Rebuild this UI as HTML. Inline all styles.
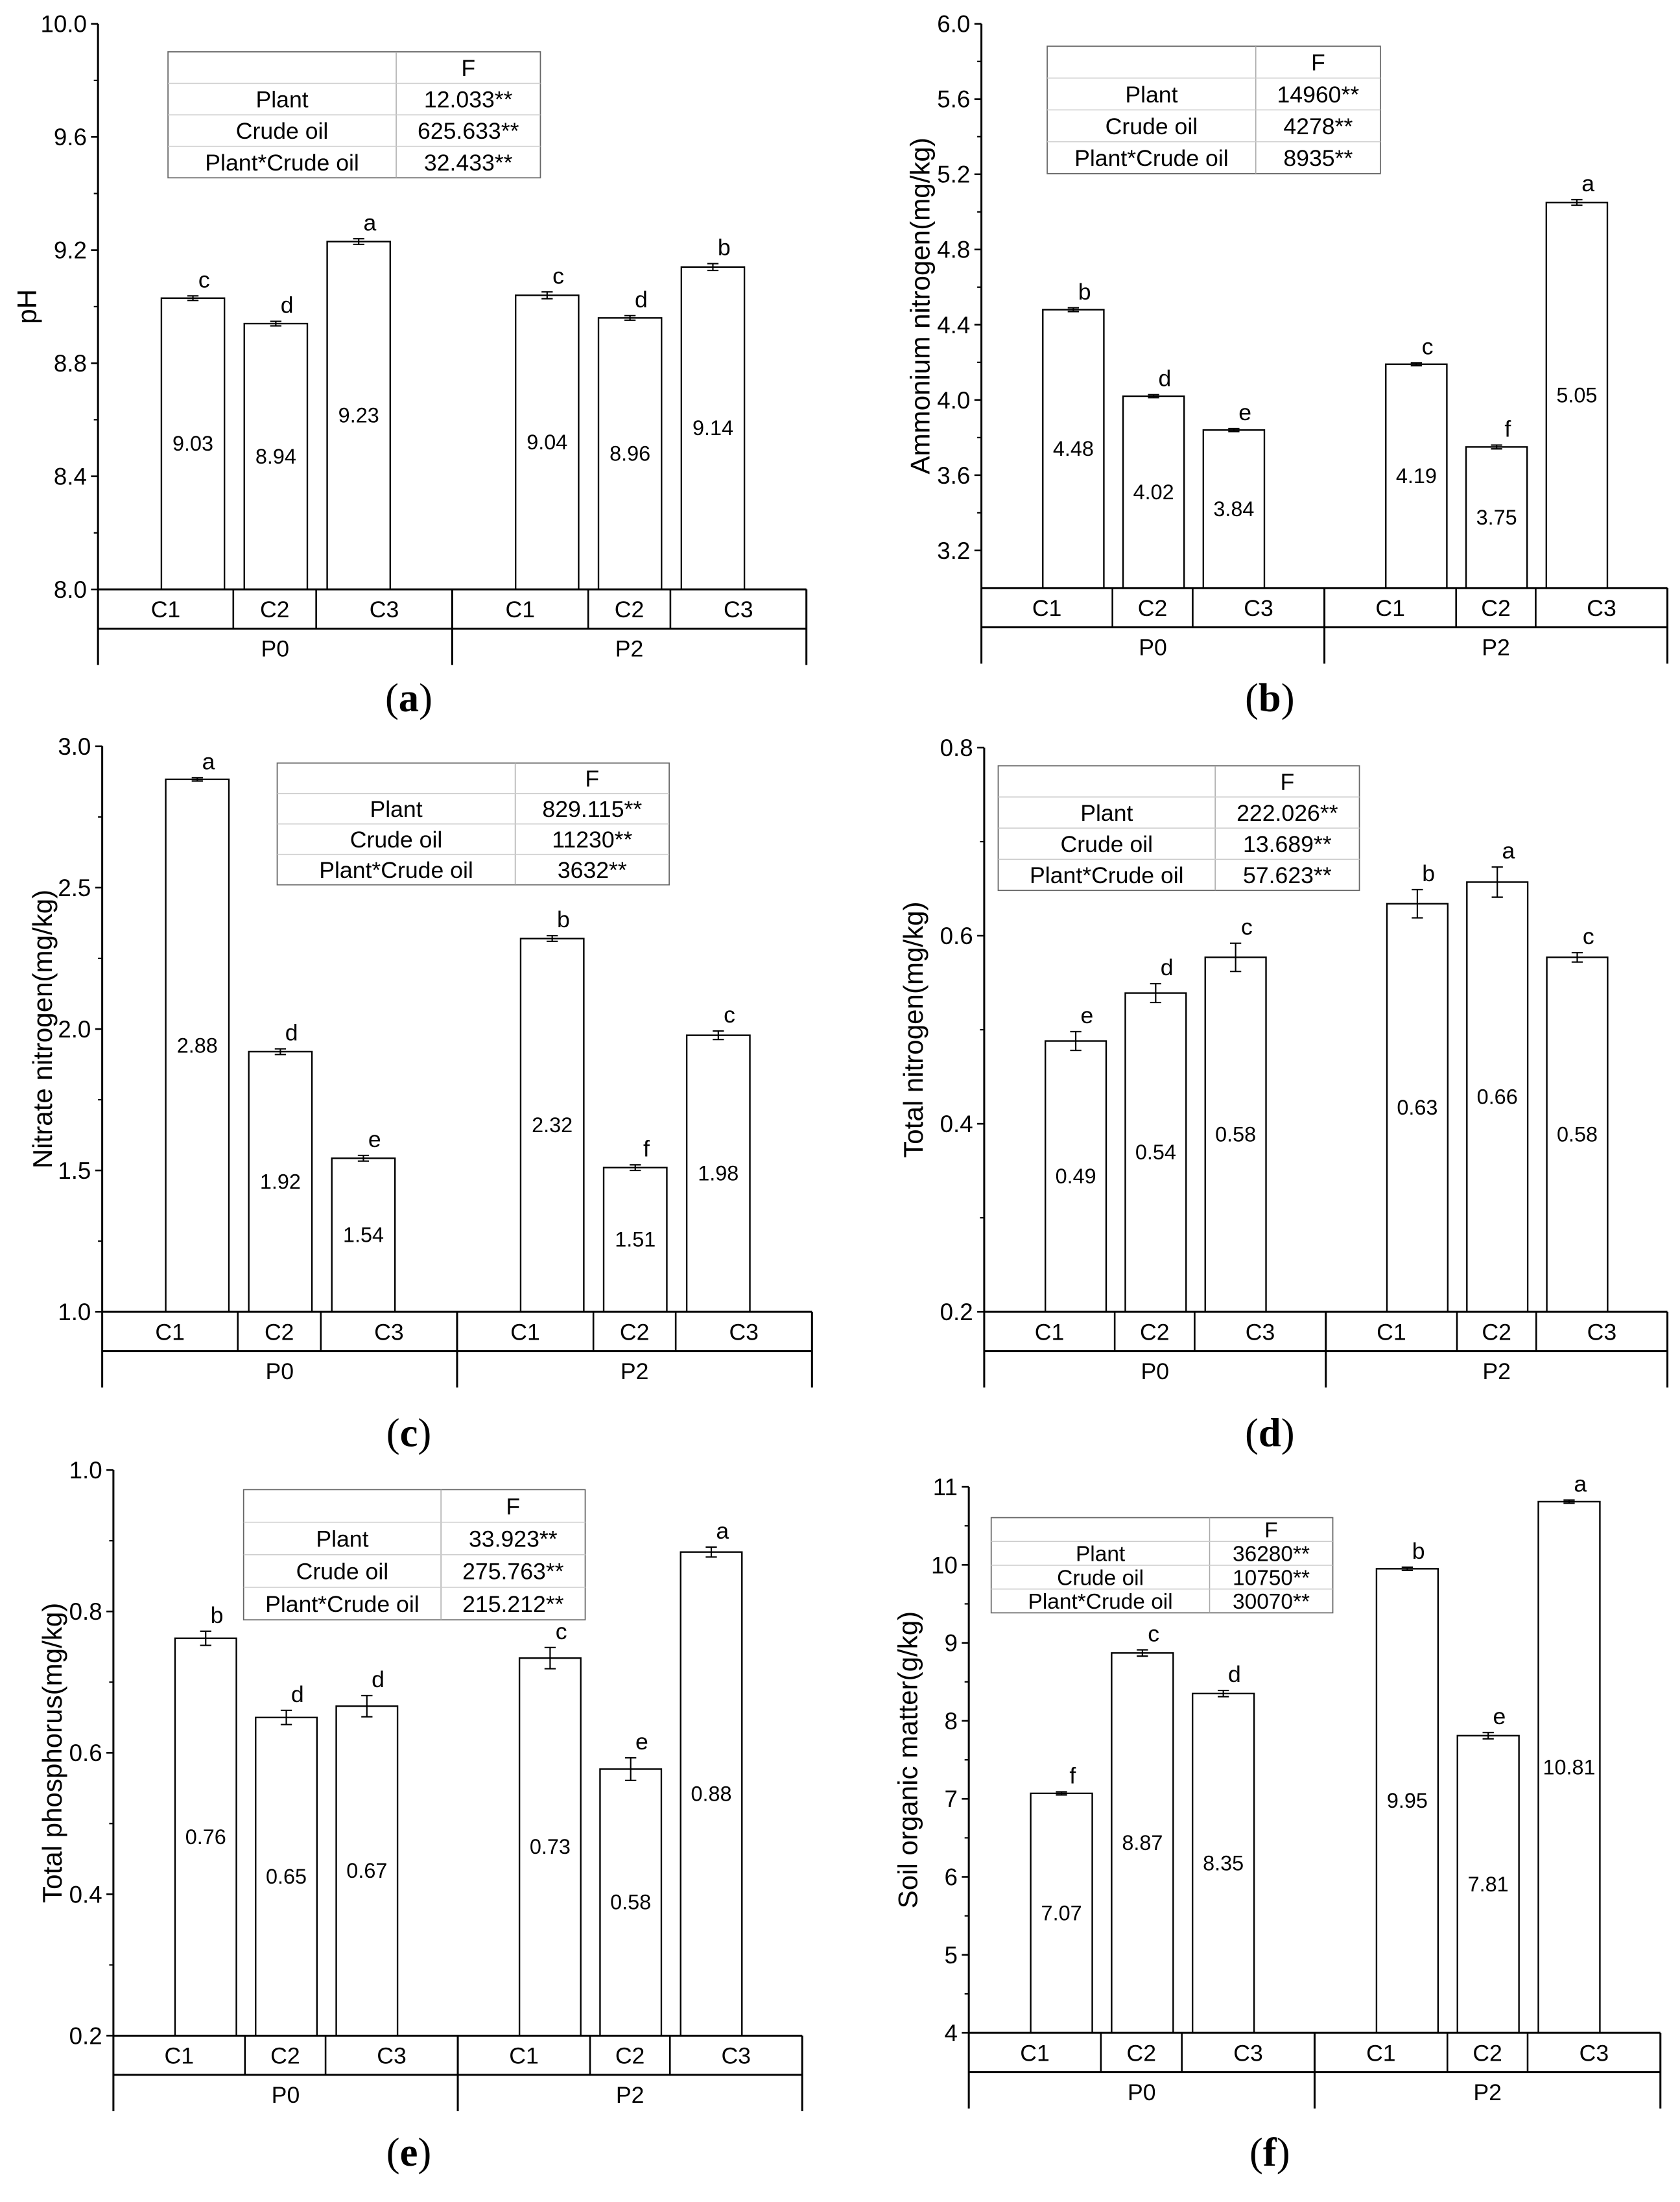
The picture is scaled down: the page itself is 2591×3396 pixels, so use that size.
<!DOCTYPE html>
<html><head><meta charset="utf-8"><style>
html,body{margin:0;padding:0;background:#fff}
svg{display:block}
text{font-family:"Liberation Sans",Arial,sans-serif;fill:#000}
</style></head><body>
<svg id="fig" xmlns="http://www.w3.org/2000/svg" width="2591" height="3396" viewBox="0 0 1200 1572.8"></svg>
<script>
const cats = ["C1","C2","C3","C1","C2","C3"];
const groups = ["P0","P2"];
// (a) pH
const aVals = [9.03,8.94,9.23,9.04,8.96,9.14];
const aErr = [0.008,0.008,0.01,0.012,0.008,0.012];
const aLet = ["c","d","a","c","d","b"];
const aTicks = [8.0,8.4,8.8,9.2,9.6,10.0];
const aF = ["12.033**","625.633**","32.433**"];
// (b) ammonium
const bVals = [4.48,4.02,3.84,4.19,3.75,5.05];
const bErr = [0.01,0.008,0.008,0.008,0.01,0.015];
const bLet = ["b","d","e","c","f","a"];
const bTicks = [3.2,3.6,4.0,4.4,4.8,5.2,5.6,6.0];
const bF = ["14960**","4278**","8935**"];
// (c) nitrate
const cVals = [2.883,1.92,1.543,2.32,1.51,1.978];
const cErr = [0.006,0.01,0.01,0.01,0.01,0.015];
const cLet = ["a","d","e","b","f","c"];
const cTicks = [1.0,1.5,2.0,2.5,3.0];
const cF = ["829.115**","11230**","3632**"];
// (d) total nitrogen
const dVals = [0.488,0.539,0.577,0.634,0.657,0.577];
const dErr = [0.01,0.01,0.015,0.015,0.016,0.005];
const dLet = ["e","d","c","b","a","c"];
const dTicks = [0.2,0.4,0.6,0.8];
const dF = ["222.026**","13.689**","57.623**"];
// (e) total phosphorus
const eVals = [0.762,0.65,0.666,0.734,0.577,0.884];
const eErr = [0.01,0.01,0.015,0.015,0.016,0.007];
const eLet = ["b","d","d","c","e","a"];
const eTicks = [0.2,0.4,0.6,0.8,1.0];
const eF = ["33.923**","275.763**","215.212**"];
// (f) soil organic matter
const fVals = [7.07,8.87,8.35,9.95,7.81,10.81];
const fErr = [0.02,0.04,0.04,0.02,0.04,0.02];
const fLet = ["f","c","d","b","e","a"];
const fTicks = [4,5,6,7,8,9,10,11];
const fF = ["36280**","10750**","30070**"];

const rowNames = ["Plant","Crude oil","Plant*Crude oil"];
const NS = "http://www.w3.org/2000/svg";
const svg = document.getElementById('fig');
function mk(tag, attrs, parent, txt){
  const e = document.createElementNS(NS, tag);
  for (const k in attrs) e.setAttribute(k, attrs[k]);
  if (txt !== undefined) e.textContent = txt;
  parent.appendChild(e);
  return e;
}

function panel(cfg){
  const g = mk('g', {}, svg);
  
  
  const x0 = cfg.x0, x1 = cfg.x1, yT = cfg.yT, yB = cfg.yB;
  const W = x1 - x0;
  const ys = v => yB - (v - cfg.min) / (cfg.max - cfg.min) * (yB - yT);
  const ax = mk('line', {x1:x0, y1:yT, x2:x0, y2:yB, stroke:'#000','stroke-width':1.4}, g);
  
  
  cfg.ticks.forEach((t, i) => {
    const y = ys(t);
    mk('line', {x1:x0-5, y1:y, x2:x0, y2:y, stroke:'#000','stroke-width':1.2}, g);
    const tl = mk('text', {x:x0-8, y:y+6, 'font-size':17, 'text-anchor':'end'}, g, cfg.fmt(t));
    
    
    if (i < cfg.ticks.length - 1) {
      const ym = ys((t + cfg.ticks[i+1]) / 2);
      mk('line', {x1:x0-3, y1:ym, x2:x0, y2:ym, stroke:'#000','stroke-width':1}, g);
    }
  });
  const yc = (yT + yB) / 2;
  const tt = mk('text', {x:0, y:0, 'font-size':19.5, 'text-anchor':'middle', transform:`translate(${cfg.titleX},${yc}) rotate(-90)`}, g, cfg.title);
  
  
  const centers = [.134,.251,.368,.634,.751,.868];
  const bw = W * 0.089;
  cfg.vals.forEach((v, i) => {
    const cx = x0 + centers[i] * W;
    const yv = ys(v);
    const r = mk('rect', {x:cx-bw/2, y:yv, width:bw, height:yB-yv, fill:'#fff', stroke:'#000','stroke-width':1.1}, g);
    
    
    const e = cfg.err[i];
    const yh = ys(v + e), yl = ys(v - e);
    mk('path', {d:`M${cx},${yh}V${yl}M${cx-4},${yh}H${cx+4}M${cx-4},${yl}H${cx+4}`, stroke:'#000','stroke-width':1, fill:'none'}, g);
    const lt = mk('text', {x:cx+8, y:yh-6, 'font-size':16.5, 'text-anchor':'middle'}, g, cfg.lets[i]);
    
    
    const vt = mk('text', {x:cx, y:(yv+yB)/2+5, 'font-size':15, 'text-anchor':'middle'}, g, v.toFixed(2));
    
    
  });
  const r1 = yB + 28, r2 = yB + 54;
  mk('path', {d:`M${x0},${yB}H${x1}M${x0},${r1}H${x1}M${x0},${yB}V${r2}M${x1},${yB}V${r2}M${x0+W*.5},${yB}V${r2}`, stroke:'#000','stroke-width':1.4, fill:'none'}, g);
  const cols = [0,.191,.308,.5,.692,.808,1];
  [.191,.308,.692,.808].forEach(f => mk('line', {x1:x0+W*f, y1:yB, x2:x0+W*f, y2:r1, stroke:'#000','stroke-width':1.2}, g));
  cats.forEach((c, i) => {
    const cx = x0 + W * (cols[i] + cols[i+1]) / 2;
    const ct = mk('text', {x:cx, y:r1-8, 'font-size':16.5, 'text-anchor':'middle'}, g, c);
    
    
  });
  groups.forEach((p, i) => {
    const pt = mk('text', {x:x0 + W*(.25 + .5*i), y:r2-6, 'font-size':16.5, 'text-anchor':'middle'}, g, p);
    
    
  });
  const T = cfg.tbl;
  const tg = mk('g', {}, g);
  
  
  const rh = (T.y1 - T.y0) / 4;
  const fs = T.fs || 16.5;
  mk('rect', {x:T.x0, y:T.y0, width:T.x1-T.x0, height:T.y1-T.y0, fill:'#fff', stroke:'#666','stroke-width':0.8}, tg);
  mk('line', {x1:T.sx, y1:T.y0, x2:T.sx, y2:T.y1, stroke:'#aaa','stroke-width':0.7}, tg);
  for (let k = 1; k < 4; k++) mk('line', {x1:T.x0, y1:T.y0+rh*k, x2:T.x1, y2:T.y0+rh*k, stroke:'#ccc','stroke-width':0.7}, tg);
  mk('text', {x:(T.sx+T.x1)/2, y:T.y0+rh*0.5+fs*0.36, 'font-size':fs, 'text-anchor':'middle'}, tg, 'F');
  rowNames.forEach((n, k) => {
    mk('text', {x:(T.x0+T.sx)/2, y:T.y0+rh*(k+1.5)+fs*0.36, 'font-size':fs, 'text-anchor':'middle'}, tg, n);
    mk('text', {x:(T.sx+T.x1)/2, y:T.y0+rh*(k+1.5)+fs*0.36, 'font-size':fs, 'text-anchor':'middle'}, tg, cfg.F[k]);
  });
  const cap = mk('text', {x:cfg.capX, y:cfg.capY, 'font-size':29, 'text-anchor':'middle', style:'font-family:"Liberation Serif",serif'}, g);
  
  
  mk('tspan', {}, cap, '(');
  mk('tspan', {'font-weight':'bold'}, cap, cfg.id);
  mk('tspan', {}, cap, ')');
}

const f1 = v => v.toFixed(1);
const f0 = v => v.toFixed(0);
panel({id:'a', x0:70, x1:576, yT:17, yB:421, min:8.0, max:10.0, ticks:aTicks, fmt:f1, vals:aVals, err:aErr, lets:aLet, title:'pH', titleX:26,
  F:aF, tbl:{x0:120, x1:386, y0:37, y1:127, sx:283}, capX:292, capY:508});
panel({id:'b', x0:701, x1:1191, yT:17, yB:420, min:3.0, max:6.0, ticks:bTicks, fmt:f1, vals:bVals, err:bErr, lets:bLet, title:'Ammonium nitrogen(mg/kg)', titleX:664,
  F:bF, tbl:{x0:748, x1:986, y0:33, y1:124, sx:897}, capX:907, capY:508});
panel({id:'c', x0:73, x1:580, yT:533, yB:937, min:1.0, max:3.0, ticks:cTicks, fmt:f1, vals:cVals, err:cErr, lets:cLet, title:'Nitrate nitrogen(mg/kg)', titleX:37,
  F:cF, tbl:{x0:198, x1:478, y0:545, y1:632, sx:368}, capX:292, capY:1033});
panel({id:'d', x0:703, x1:1191, yT:534, yB:937, min:0.2, max:0.8, ticks:dTicks, fmt:f1, vals:dVals, err:dErr, lets:dLet, title:'Total nitrogen(mg/kg)', titleX:659,
  F:dF, tbl:{x0:713, x1:971, y0:547, y1:636, sx:868}, capX:907, capY:1033});
panel({id:'e', x0:81, x1:573, yT:1050, yB:1454, min:0.2, max:1.0, ticks:eTicks, fmt:f1, vals:eVals, err:eErr, lets:eLet, title:'Total phosphorus(mg/kg)', titleX:44,
  F:eF, tbl:{x0:174, x1:418, y0:1064, y1:1157, sx:315}, capX:292, capY:1547});
panel({id:'f', x0:692, x1:1186, yT:1062, yB:1452, min:4, max:11, ticks:fTicks, fmt:f0, vals:fVals, err:fErr, lets:fLet, title:'Soil organic matter(g/kg)', titleX:655,
  F:fF, tbl:{x0:708, x1:952, y0:1084, y1:1152, sx:864, fs:15.5}, capX:907, capY:1547});
</script>
</body></html>
